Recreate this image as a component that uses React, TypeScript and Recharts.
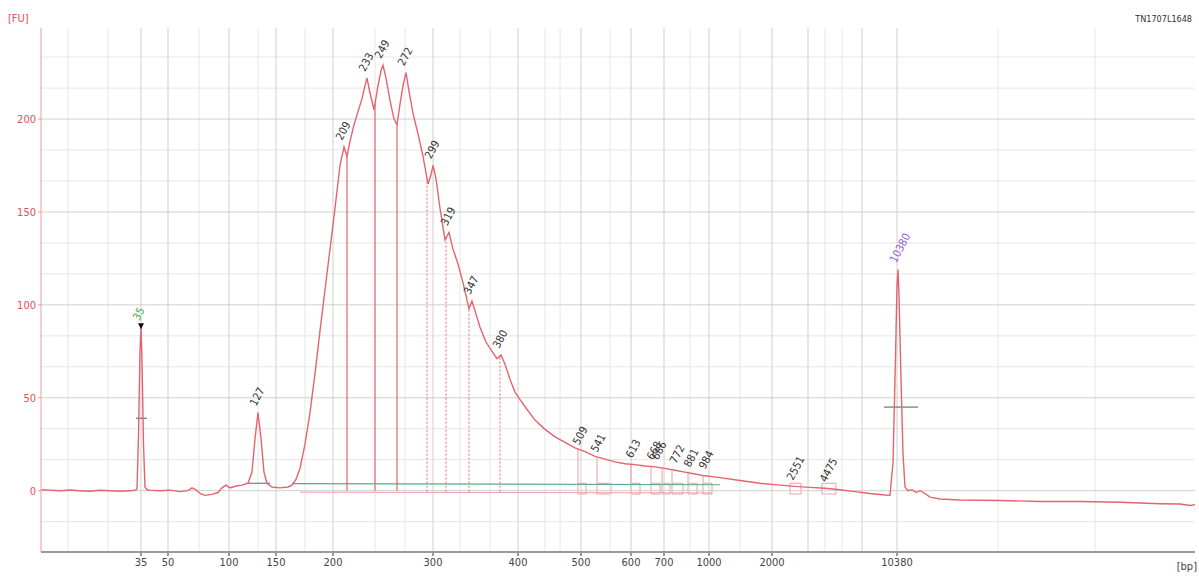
import { ComposedChart, Line, Scatter, XAxis, YAxis, ReferenceLine, ReferenceArea } from "recharts";

// migration position (arbitrary run units) and fluorescence [FU]
const tracePos = [
  41, 50, 60, 70, 80, 90, 100, 110, 120, 130, 135, 137, 138.5, 140, 141, 142, 143.5, 145, 147,
  150, 160, 170, 180, 188, 192, 196, 200, 205, 212, 218, 222, 226, 230, 236, 242, 248, 252, 255,
  258, 261, 264, 267, 272, 280, 288, 292, 296, 300, 305, 310, 315, 320, 325, 330, 335, 340, 344,
  347, 350, 354, 358, 362, 365, 367, 370, 374, 378, 381, 383, 386, 390, 394, 397, 400, 403, 406,
  409, 413, 418, 423, 428, 431, 433, 436, 440, 445, 449, 453, 458, 463, 469, 472, 476, 480, 486,
  492, 497, 501, 505, 510, 515, 520, 528, 535, 545, 555, 565, 575, 585, 595, 605, 615, 625, 635,
  645, 655, 665, 675, 685, 695, 705, 720, 740, 760, 780, 795, 810, 825, 840, 855, 870, 885, 890,
  893, 895, 897, 898, 899, 901, 903, 905, 908, 912, 916, 920, 925, 930, 940, 960, 1000, 1040,
  1080, 1120, 1160, 1180, 1190, 1195,
];
const traceFu = [
  0.5, 0.3, 0, 0.4, 0, -0.3, 0.2, 0, -0.3, 0, 0.2, 1, 30, 75, 88, 70, 25, 2, 0.5,
  0.3, 0, 0.3, -0.5, 0, 1.5, 0.5, -1.5, -2.5, -2, -1, 1.5, 3, 1.5, 2.5, 3, 4, 10, 28,
  42, 28, 10, 4, 2, 1.5, 2, 3, 6, 12, 25, 42, 63, 86, 108, 130, 152, 175, 185,
  180, 188, 197, 204, 211, 218, 222, 214, 205, 218, 226, 229, 222, 210, 200, 197, 208, 218, 225,
  215, 203, 192, 180, 165, 170, 175, 168, 152, 135, 139, 130, 122, 112, 98, 102, 95, 88, 80,
  75, 71, 73, 68, 60, 53, 49, 43, 38, 33, 29, 26, 23, 21, 18.5, 17, 15.5, 14.5, 14,
  13.3, 12.8, 12, 11, 10, 9, 8, 7, 5.5, 4, 3, 2.3, 1.8, 1.3, 0.5, -0.5, -1.5, -2.3, -2.5,
  15, 60, 110, 119, 105, 60, 20, 2, 0, 0.5, -1, 0, -1.5, -3.5, -4.5, -5, -5.3, -5.8,
  -5.8, -6.2, -7, -7.2, -8, -7.5,
];

// x axis: tick positions and their size labels [bp]
const tickPos = [141, 168, 229, 276, 333, 433, 518, 581, 631, 664, 709, 772, 897];
const tickBp = ["35", "50", "100", "150", "200", "300", "400", "500", "600", "700", "1000", "2000", "10380"];
const minorTickPos = [808, 862];
const yTicks = [0, 50, 100, 150, 200];

// called peaks
const peakPos = [141, 258, 344, 367, 383, 406, 433, 449, 472, 501, 581, 599, 634, 655, 660, 678, 692, 707, 795, 828, 898];
const peakFu = [88, 42, 185, 222, 229, 225, 175, 139, 102, 73, 21, 17, 14, 13, 13, 11, 9, 8, 2, 1, 119];
const peakBp = ["35", "127", "209", "233", "249", "272", "299", "319", "347", "380", "509", "541", "613", "668", "686", "772", "881", "984", "2551", "4475", "10380"];
const peakKind = ["lower", "", "", "", "", "", "", "", "", "", "", "", "", "", "", "", "", "", "", "", "upper"];

// peak boundaries in the smear region
const solidCuts = [347, 375, 397];
const dashedCuts = [427, 446, 469, 500];
// small integration windows
const winStart = [578, 597, 631, 651, 662, 672, 688, 703, 790, 822];
const winEnd = [586, 611, 640, 660, 670, 683, 697, 712, 801, 836];

const minorX = [68, 108, 199, 258, 305, 375, 405, 460, 490, 545, 560, 610, 690, 740, 825, 842, 998, 1095];
const minorY = [-50 / 3, 50 / 3, 100 / 3, 200 / 3, 250 / 3, 350 / 3, 400 / 3, 500 / 3, 550 / 3, 650 / 3, 700 / 3];
const majorY = [0, 50, 100, 150, 200, 250];

const rows = tracePos.map((p, i) => ({ pos: p, fu: traceFu[i] }));
const peaks = peakPos.map((p, i) => ({ pos: p, fu: peakFu[i], bp: peakBp[i], kind: peakKind[i] }));

function fuAt(x: number) {
  for (let i = 1; i < tracePos.length; i++) {
    if (tracePos[i] >= x) {
      const t = (x - tracePos[i - 1]) / (tracePos[i] - tracePos[i - 1]);
      return traceFu[i - 1] + t * (traceFu[i] - traceFu[i - 1]);
    }
  }
  return 0;
}

const RED = "#e4646e";
const FONT = "'Liberation Sans Narrow', 'DejaVu Sans Condensed', 'Liberation Sans', sans-serif";

function PeakLabel(props: any) {
  const { cx, cy, payload } = props;
  if (cx == null) return null;
  const color = payload.kind === "lower" ? "#3fae49" : payload.kind === "upper" ? "#9a5ad8" : "#333";
  return (
    <g>
      {payload.kind === "lower" && <path d={`M${cx - 3},${cy - 4} L${cx + 3},${cy - 4} L${cx},${cy + 2} Z`} fill="#111" />}
      <text
        x={cx - 2}
        y={cy - 6}
        transform={`rotate(-62 ${cx - 2} ${cy - 6})`}
        fontSize={11}
        fill={color}
        fontFamily={FONT}
      >
        {payload.bp}
      </text>
    </g>
  );
}

export default function App() {
  return (
    <div style={{ position: "fixed", left: 0, top: 0, width: 1199, height: 588, background: "#fff" }}>
      <ComposedChart width={1199} height={588} data={rows} margin={{ top: 28, right: 4, left: 6, bottom: 0 }}>
        {minorX.map((x) => (
          <ReferenceLine key={"mx" + x} x={x} stroke="#e6e6e6" strokeWidth={1} />
        ))}
        {minorY.map((y) => (
          <ReferenceLine key={"my" + y} y={y} stroke="#e6e6e6" strokeWidth={1} />
        ))}
        {majorY.map((y) => (
          <ReferenceLine key={"My" + y} y={y} stroke="#cfcfcf" strokeWidth={1} />
        ))}
        {tickPos.concat(minorTickPos).map((x) => (
          <ReferenceLine key={"Mx" + x} x={x} stroke="#cfcfcf" strokeWidth={1} />
        ))}
        <XAxis
          type="number"
          dataKey="pos"
          domain={[41, 1195]}
          ticks={tickPos}
          tickFormatter={(v) => tickBp[tickPos.indexOf(v)] ?? ""}
          interval={0}
          height={36}
          stroke="#9a9a9a"
          strokeWidth={2}
          tickSize={4}
          tick={{ fontSize: 11, fill: "#444", fontFamily: FONT }}
          allowDataOverflow
        />
        <YAxis
          type="number"
          domain={[-33, 249]}
          ticks={yTicks}
          width={35}
          stroke="#ef9aa0"
          tickSize={3}
          tick={{ fontSize: 11, fill: "#e0505a", fontFamily: FONT }}
          allowDataOverflow
        />
        {/* baselines */}
        <ReferenceLine segment={[{ x: 292, y: 3.8 }, { x: 720, y: 3.2 }]} stroke="#5aa88f" strokeWidth={1.2} />
        <ReferenceLine segment={[{ x: 300, y: -0.8 }, { x: 712, y: -1.2 }]} stroke="#f0a0a8" strokeWidth={1} />
        <ReferenceLine segment={[{ x: 247, y: 4 }, { x: 270, y: 4 }]} stroke="#666" strokeWidth={1} />
        <ReferenceLine segment={[{ x: 136, y: 39 }, { x: 147, y: 39 }]} stroke="#555" strokeWidth={1} />
        <ReferenceLine segment={[{ x: 884, y: 45 }, { x: 918, y: 45 }]} stroke="#555" strokeWidth={1} />
        {solidCuts.map((x) => (
          <ReferenceLine key={"s" + x} segment={[{ x, y: 0 }, { x, y: fuAt(x) }]} stroke={RED} strokeWidth={1.2} />
        ))}
        {dashedCuts.map((x) => (
          <ReferenceLine key={"d" + x} segment={[{ x, y: -0.5 }, { x, y: fuAt(x) }]} stroke={RED} strokeWidth={1} strokeDasharray="2 2" />
        ))}
        {winStart.map((x, i) => (
          <ReferenceArea key={"w" + x} x1={x} x2={winEnd[i]} y1={-1.8} y2={4} fill="none" stroke="#e8a0a6" strokeWidth={1} />
        ))}
        {winStart.slice(0, 8).map((x) => (
          <ReferenceLine key={"wl" + x} segment={[{ x, y: 4 }, { x, y: fuAt(x) }]} stroke="#e8a0a6" strokeWidth={1} />
        ))}
        <Line dataKey="fu" type="linear" stroke={RED} strokeWidth={1.4} dot={false} isAnimationActive={false} />
        <Scatter data={peaks} dataKey="fu" shape={PeakLabel} isAnimationActive={false} />
        <text x={8} y={22} fontSize={11} fill="#e0505a" fontFamily={FONT}>[FU]</text>
        <text x={1192} y={22} fontSize={9} fill="#333" fontFamily={FONT} textAnchor="end">TN1707L1648</text>
        <text x={1197} y={570} fontSize={11} fill="#444" fontFamily={FONT} textAnchor="end">[bp]</text>
      </ComposedChart>
    </div>
  );
}
